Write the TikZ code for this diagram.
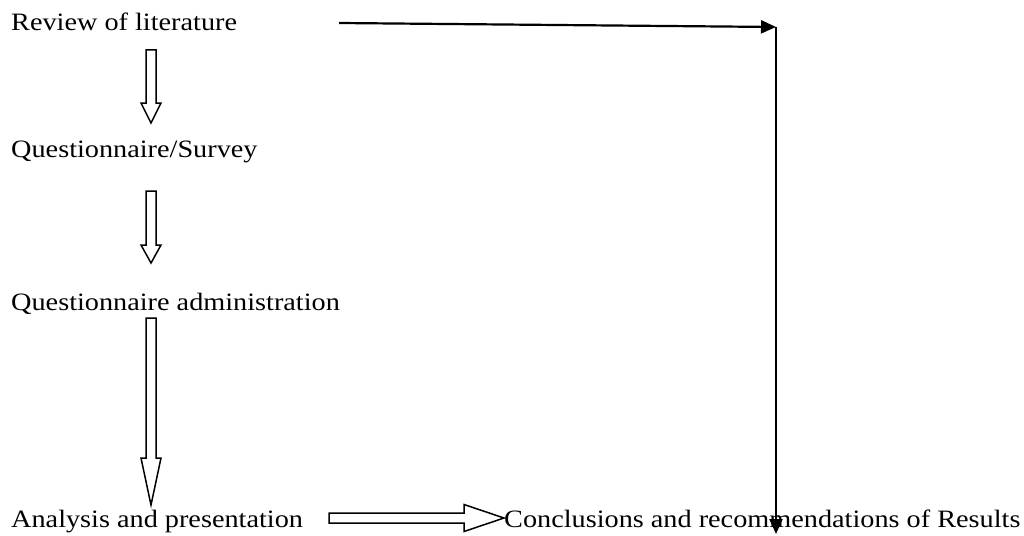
\documentclass[tikz,border=0pt]{standalone}
\usepackage{fontspec}
\setmainfont{Liberation Serif}[FakeStretch=1.13]
\usetikzlibrary{arrows.meta,calc}
\tikzset{
  lbl/.style={anchor=base west, inner sep=0pt, font=\fontsize{25}{28}\selectfont},
  blockarrow/.style={draw=black, line width=1.5pt, fill=white, line join=miter},
  thinarrow/.style={draw=black, line width=2.2pt, -{Triangle[length=15pt,width=13pt]}}
}
\newcommand{\vblock}[3]{%
  \draw[blockarrow] let \p1=(#1), \p2=(#2) in
    (\x1-5pt,\y1) -- (\x1+5pt,\y1) -- (\x1+5pt,\y2+#3) -- (\x1+10pt,\y2+#3)
    -- (\x2,\y2) -- (\x1-10pt,\y2+#3) -- (\x1-5pt,\y2+#3) -- cycle;}
\newcommand{\hblock}[3]{%
  \draw[blockarrow] let \p1=(#1), \p2=(#2) in
    (\x1,\y1+5pt) -- (\x2-#3,\y1+5pt) -- (\x2-#3,\y1+13.5pt)
    -- (\x2,\y2) -- (\x2-#3,\y1-13.5pt) -- (\x2-#3,\y1-5pt) -- (\x1,\y1-5pt) -- cycle;}
\begin{document}
\begin{tikzpicture}[x=1pt,y=-1pt]
\useasboundingbox (0,0) rectangle (1024,535);
\node[lbl] (rev) at (11,31) {Review of literature};
\node[lbl] (qs) at (11,157) {Questionnaire/Survey};
\node[lbl] (qa) at (11,310) {Questionnaire administration};
\node[lbl] (an) at (11,527) {Analysis and presentation};
\node[lbl] (con) at (504,527) {Conclusions and recommendations of Results};
% block arrow end points
\coordinate (a1s) at (151,50);  \coordinate (a1e) at (151,123);
\coordinate (a2s) at (151,191); \coordinate (a2e) at (151,263);
\coordinate (a3s) at (151,318); \coordinate (a3e) at (151,505);
\coordinate (h1s) at (329,518); \coordinate (h1e) at (con.west |- 0,518);
\vblock{a1s}{a1e}{20}
\vblock{a2s}{a2e}{18}
\vblock{a3s}{a3e}{47}
\hblock{h1s}{h1e}{40}
% thin connector
\coordinate (ts) at (339,23);
\coordinate (corner) at (776,27);
\coordinate (bot) at (776,534);
\draw[thinarrow] (ts) -- (corner);
\draw[thinarrow] (corner) -- (bot);
\end{tikzpicture}
\end{document}
